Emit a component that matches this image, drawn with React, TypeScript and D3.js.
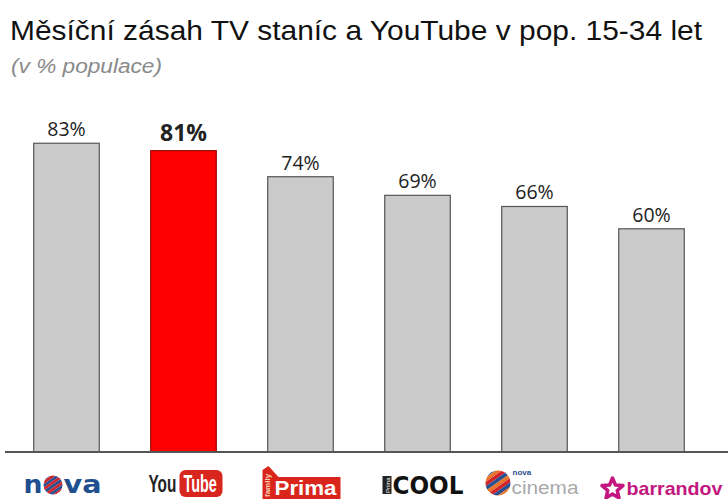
import React from "react";
import * as d3 from "d3";

const categories = ["Nova", "YouTube", "Prima family", "Prima COOL", "Nova Cinema", "Barrandov"];
const values = [83, 81, 74, 69, 66, 60];
const highlighted = "YouTube";
const titleText = "Měsíční zásah TV staníc a YouTube v pop. 15-34 let";
const subtitleText = "(v % populace)";

const W = 728;
const H = 499;
const baseY = 452;

function Stripes({ id, cx, cy, r, colors, angle }: { id: string; cx: number; cy: number; r: number; colors: string[]; angle: number }) {
  const n = 9;
  const h = (2 * r) / n;
  return (
    <g>
      <defs>
        <clipPath id={id}>
          <circle cx={cx} cy={cy} r={r} />
        </clipPath>
      </defs>
      <g clipPath={`url(#${id})`}>
        <g transform={`rotate(${angle} ${cx} ${cy})`}>
          {d3.range(n + 2).map((i) => (
            <rect key={i} x={cx - r * 1.5} y={cy - r * 1.5 + i * h * 1.3} width={r * 3} height={h * 1.3} fill={colors[i % colors.length]} />
          ))}
        </g>
      </g>
    </g>
  );
}

function Logo({ name, cx }: { name: string; cx: number }) {
  if (name === "Nova") {
    const x0 = cx - 43;
    return (
      <g>
        <text x={x0} y={493} fontFamily="DejaVu Sans, sans-serif" fontWeight="bold" fontSize={25} fill="#1f4f8f" textLength={19} lengthAdjust="spacingAndGlyphs">n</text>
        <Stripes id="novaO" cx={x0 + 29.5} cy={485} r={9.5} colors={["#d2232a", "#2a4f8f"]} angle={-35} />
        <text x={x0 + 40} y={493} fontFamily="DejaVu Sans, sans-serif" fontWeight="bold" fontSize={25} fill="#1f4f8f" textLength={38} lengthAdjust="spacingAndGlyphs">va</text>
      </g>
    );
  }
  if (name === "YouTube") {
    const x0 = cx - 35;
    return (
      <g>
        <rect x={x0 + 31} y={470} width={43} height={27} rx={6} fill="#d8261f" />
        <text transform={`translate(${x0},492) scale(0.64,1)`} fontFamily="Liberation Sans, Arial, sans-serif" fontWeight="bold" fontSize={24} fill="#222">You</text>
        <text transform={`translate(${x0 + 35},492) scale(0.6,1)`} fontFamily="Liberation Sans, Arial, sans-serif" fontWeight="bold" fontSize={24} fill="#fff">Tube</text>
      </g>
    );
  }
  if (name === "Prima family") {
    const x0 = cx - 38;
    return (
      <g>
        <polygon points={`${x0},${H} ${x0},${470} ${x0 + 6},${466} ${x0 + 16},${477} ${x0 + 78},${477} ${x0 + 78},${H}`} fill="#d9261c" />
        <text transform={`translate(${x0 + 7},${497}) rotate(-90)`} fontFamily="Liberation Sans, Arial, sans-serif" fontSize={8} fill="#f6d0b0" fontWeight="bold">family</text>
        <text x={x0 + 12} y={495} fontFamily="Liberation Sans, Arial, sans-serif" fontWeight="bold" fontSize={20} fill="#fff" textLength={62} lengthAdjust="spacingAndGlyphs">Prima</text>
      </g>
    );
  }
  if (name === "Prima COOL") {
    const x0 = cx - 35;
    return (
      <g>
        <rect x={x0} y={476} width={9} height={18} fill="#222" />
        <text transform={`translate(${x0 + 7},${493}) rotate(-90)`} fontFamily="Liberation Sans, Arial, sans-serif" fontSize={6} fill="#fff">Prima</text>
        <text x={x0 + 10} y={494} fontFamily="DejaVu Sans, sans-serif" fontWeight="bold" fontSize={25} fill="#111" textLength={71} lengthAdjust="spacingAndGlyphs">COOL</text>
      </g>
    );
  }
  if (name === "Nova Cinema") {
    const x0 = cx - 49;
    return (
      <g>
        <Stripes id="cinemaO" cx={x0 + 12.5} cy={483} r={12.5} colors={["#d2232a", "#2a4f8f", "#e9742b"]} angle={-35} />
        <text x={x0 + 27} y={475} fontFamily="Liberation Sans, Arial, sans-serif" fontWeight="bold" fontSize={8} fill="#2a4f8f">nova</text>
        <text x={x0 + 26} y={494} fontFamily="Liberation Sans, Arial, sans-serif" fontSize={18} fill="#a9a9a9" textLength={67} lengthAdjust="spacingAndGlyphs">cinema</text>
      </g>
    );
  }
  const x0 = cx - 50;
  const star = d3.range(10).map((i) => {
    const a = (Math.PI / 5) * i - Math.PI / 2;
    const r = i % 2 === 0 ? 11 : 5;
    return [x0 + 11 + r * Math.cos(a), 489 + r * Math.sin(a)];
  });
  const starPath = "M" + star.map((p) => p.join(",")).join("L") + "Z";
  return (
    <g>
      <path d={starPath} fill="none" stroke="#c3177f" strokeWidth={3.5} strokeLinejoin="round" />
      <text x={x0 + 25} y={495} fontFamily="Liberation Sans, Arial, sans-serif" fontWeight="bold" fontSize={19} fill="#c3177f" textLength={96} lengthAdjust="spacingAndGlyphs">barrandov</text>
    </g>
  );
}

export default function App() {
  const x = d3.scaleBand<string>().domain(categories).range([8, 710]).paddingInner(0.44).paddingOuter(0.22);
  const y = d3.scaleLinear().domain([0, 100]).range([baseY, 80]);
  const bw = x.bandwidth();
  return (
    <svg width={W} height={H} style={{ position: "absolute", left: 0, top: 0, background: "#fff" }}>
      <rect x={0} y={0} width={W} height={H} fill="#fff" />
      <text x={10} y={40} fontFamily="Liberation Sans, Arial, sans-serif" fontSize={27.5} fill="#111" textLength={692} lengthAdjust="spacingAndGlyphs">{titleText}</text>
      <text x={11} y={73} fontFamily="Liberation Sans, Arial, sans-serif" fontStyle="italic" fontSize={20} fill="#8a8a8a" textLength={151} lengthAdjust="spacingAndGlyphs">{subtitleText}</text>
      {categories.map((c, i) => {
        const hl = c === highlighted;
        const bx = x(c)!;
        return (
          <g key={c}>
            <rect x={bx} y={y(values[i])} width={bw} height={baseY - y(values[i])} fill={hl ? "#ff0000" : "#cbcbcb"} stroke={hl ? "#9a0000" : "#555"} strokeWidth={1.2} />
            <text x={bx + bw / 2} y={y(values[i]) - (hl ? 10 : 7)} textAnchor="middle" fontFamily="Open Sans, sans-serif" fontWeight={hl ? "bold" : "normal"} fontSize={hl ? 23 : 19.5} fill="#222">{values[i] + "%"}</text>
          </g>
        );
      })}
      <line x1={5} x2={W} y1={baseY} y2={baseY} stroke="#555" strokeWidth={2} />
      {categories.map((c) => (
        <Logo key={c} name={c} cx={x(c)! + bw / 2} />
      ))}
    </svg>
  );
}
